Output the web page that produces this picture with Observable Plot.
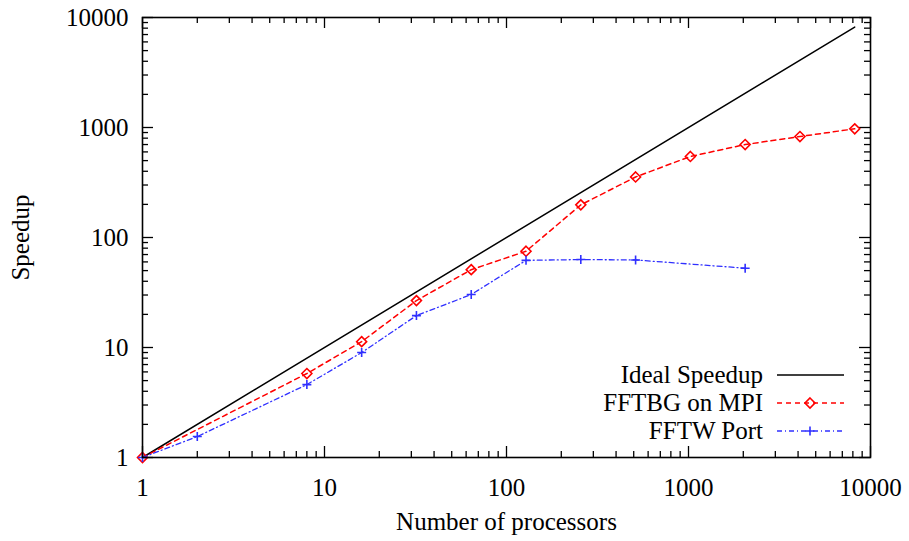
<!DOCTYPE html>
<html><head><meta charset="utf-8">
<script src="https://cdn.jsdelivr.net/npm/d3@7"></script>
<script src="https://cdn.jsdelivr.net/npm/@observablehq/plot@0.6"></script>
<style>body{margin:0;background:#fff}</style>
</head><body><div id="chart"></div>
<script>
// ---- data ----
const idealX = [1, 8192];
const idealY = [1, 8192];
const fftbgX = [1, 8, 16, 32, 64, 128, 256, 512, 1024, 2048, 4096, 8192];
const fftbgY = [1, 5.8, 11.3, 26.7, 51, 75, 198, 355, 545, 700, 828, 973];
const fftwX = [1, 2, 8, 16, 32, 64, 128, 256, 512, 2048];
const fftwY = [1, 1.55, 4.6, 9.0, 19.5, 30.3, 62, 63, 62.5, 52.6];
const majorTicks = [1, 10, 100, 1000, 10000];
const minorMultipliers = [2, 3, 4, 5, 6, 7, 8, 9];
const seriesNames = ["Ideal Speedup", "FFTBG on MPI", "FFTW Port"];
const xLabel = "Number of processors";
const yLabel = "Speedup";

// ---- build ----
const ideal = idealX.map((x, i) => ({x, y: idealY[i]}));
const fftbg = fftbgX.map((x, i) => ({x, y: fftbgY[i]}));
const fftw = fftwX.map((x, i) => ({x, y: fftwY[i]}));
const minorTicks = majorTicks.slice(0, -1).flatMap(d => minorMultipliers.map(m => d * m));

const W = 909, H = 541, mL = 142, mR = 39, mT = 17, mB = 84;
const frameH = H - mT - mB;
const frameW = W - mL - mR;
const RED = "#ff0000", BLUE = "#3030ff";
const FONT = "'Liberation Serif', 'Times New Roman', serif";
const majLen = 11, minLen = 6;

const chart = Plot.plot({
  width: W, height: H,
  marginLeft: mL, marginRight: mR, marginTop: mT, marginBottom: mB,
  style: {fontFamily: FONT, fontSize: "25px", background: "#fff", color: "#000"},
  x: {type: "log", domain: [1, 10000]},
  y: {type: "log", domain: [1, 10000]},
  marks: [
    // ticks (inward, mirrored)
    Plot.tickX(majorTicks, {x: d => d, insetTop: frameH - majLen, strokeWidth: 1.3}),
    Plot.tickX(majorTicks, {x: d => d, insetBottom: frameH - majLen, strokeWidth: 1.3}),
    Plot.tickX(minorTicks, {x: d => d, insetTop: frameH - minLen, strokeWidth: 1.3}),
    Plot.tickX(minorTicks, {x: d => d, insetBottom: frameH - minLen, strokeWidth: 1.3}),
    Plot.tickY(majorTicks, {y: d => d, insetRight: frameW - majLen, strokeWidth: 1.3}),
    Plot.tickY(majorTicks, {y: d => d, insetLeft: frameW - majLen, strokeWidth: 1.3}),
    Plot.tickY(minorTicks, {y: d => d, insetRight: frameW - minLen, strokeWidth: 1.3}),
    Plot.tickY(minorTicks, {y: d => d, insetLeft: frameW - minLen, strokeWidth: 1.3}),
    Plot.axisX({ticks: majorTicks, tickSize: 0, tickPadding: 21, tickFormat: d => String(d), label: null}),
    Plot.axisY({ticks: majorTicks, tickSize: 0, tickPadding: 14, tickFormat: d => String(d), label: null}),
    Plot.text([xLabel], {frameAnchor: "bottom", dy: 72, text: d => d}),
    Plot.text([yLabel], {frameAnchor: "left", dx: -122, rotate: -90, textAnchor: "middle", lineAnchor: "middle", text: d => d}),
    // series
    Plot.line(ideal, {x: "x", y: "y", stroke: "#000", strokeWidth: 1.5}),
    Plot.line(fftbg, {x: "x", y: "y", stroke: RED, strokeWidth: 1.5, strokeDasharray: "5,4"}),
    Plot.dot(fftbg, {x: "x", y: "y", symbol: "diamond2", r: 4.5, stroke: RED, strokeWidth: 1.6, fill: "none"}),
    Plot.line(fftw, {x: "x", y: "y", stroke: BLUE, strokeWidth: 1.3, strokeDasharray: "5,3,1,3"}),
    Plot.dot(fftw, {x: "x", y: "y", symbol: "plus", r: 3, stroke: BLUE, strokeWidth: 1.6}),
    Plot.frame({stroke: "#000", strokeWidth: 1.6})
  ]
});
document.getElementById("chart").appendChild(chart);

// ---- legend (inside, bottom-right) ----
const svg = d3.select(chart);
const lg = svg.append("g").attr("font-family", FONT).attr("font-size", 25);
const rowY = [375, 403, 431];
const styles = [
  {stroke: "#000", dash: null, w: 1.5, sym: null},
  {stroke: RED, dash: "5,4", w: 1.5, sym: d3.symbolDiamond2, size: Math.PI * 4.5 * 4.5},
  {stroke: BLUE, dash: "5,3,1,3", w: 1.3, sym: d3.symbolPlus, size: Math.PI * 3 * 3}
];
seriesNames.forEach((name, i) => {
  const s = styles[i], y = rowY[i];
  lg.append("text").attr("x", 763).attr("y", y).attr("dy", "0.32em").attr("text-anchor", "end").text(name);
  lg.append("line").attr("x1", 777).attr("x2", 844).attr("y1", y).attr("y2", y)
    .attr("stroke", s.stroke).attr("stroke-width", s.w).attr("stroke-dasharray", s.dash);
  if (s.sym) {
    lg.append("path").attr("d", d3.symbol(s.sym, s.size)()).attr("transform", `translate(810,${y})`)
      .attr("fill", "none").attr("stroke", s.stroke).attr("stroke-width", 1.6);
  }
});
</script>
</body></html>
